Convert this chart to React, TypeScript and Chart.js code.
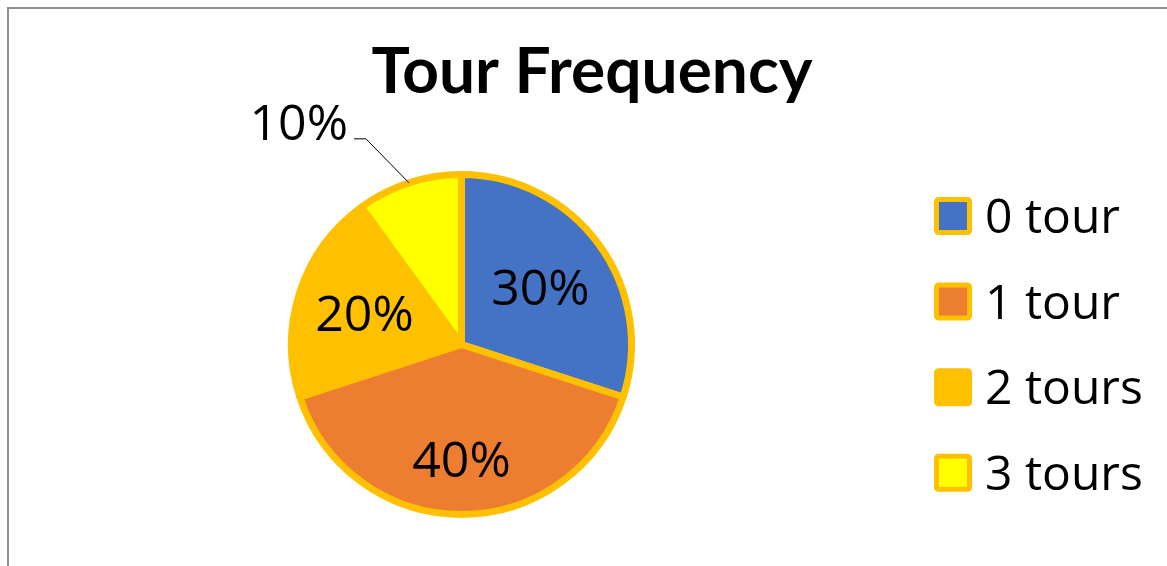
import { useEffect, useRef } from "react";
import { Chart, registerables } from "chart.js";

Chart.register(...registerables);

const chartTitle = "Tour Frequency";
const categories = ["0 tour", "1 tour", "2 tours", "3 tours"];
const shares = [30, 40, 20, 10];
const percentLabels = ["30%", "40%", "20%", "10%"];
const sliceColors = ["#4472C4", "#ED7D31", "#FFC000", "#FFFF00"];
const edgeColor = "#FFC000";

const TITLE_FONT = "Lato, 'Open Sans', sans-serif";
const TEXT_FONT = "'Open Sans', Lato, sans-serif";

export default function App() {
  const ref = useRef<HTMLCanvasElement>(null);

  useEffect(() => {
    const canvas = ref.current!;
    const decor = {
      id: "pieDecor",
      afterDraw(chart: any) {
        const ctx: CanvasRenderingContext2D = chart.ctx;
        const arcs = chart.getDatasetMeta(0).data;
        ctx.save();
        ctx.fillStyle = "#000";

        // title
        ctx.font = `bold 64px ${TITLE_FONT}`;
        ctx.textAlign = "center";
        ctx.textBaseline = "alphabetic";
        ctx.fillText(chartTitle, 592, 93);

        // slice labels
        ctx.font = `50px ${TEXT_FONT}`;
        const factors = [0.574, 0.674, 0.6];
        arcs.forEach((arc: any, i: number) => {
          const p = arc.getProps(["x", "y", "startAngle", "endAngle", "outerRadius"], true);
          const mid = (p.startAngle + p.endAngle) / 2;
          if (i < 3) {
            const r = p.outerRadius * factors[i];
            const lx = p.x + Math.cos(mid) * r;
            const ly = p.y + Math.sin(mid) * r;
            ctx.textAlign = "center";
            ctx.fillText(percentLabels[i], lx, ly + 18);
          } else {
            const ex = p.x + Math.cos(mid) * p.outerRadius;
            const ey = p.y + Math.sin(mid) * p.outerRadius;
            const bx = ex - 43;
            const by = ey - 44;
            ctx.strokeStyle = "#000";
            ctx.lineWidth = 1;
            ctx.beginPath();
            ctx.moveTo(ex, ey);
            ctx.lineTo(bx, by);
            ctx.lineTo(bx - 12, by);
            ctx.stroke();
            ctx.textAlign = "right";
            ctx.fillText(percentLabels[i], bx - 18, by + 1);
          }
        });

        // legend
        ctx.font = `48px ${TEXT_FONT}`;
        ctx.textAlign = "left";
        categories.forEach((name, i) => {
          const cy = 216 + i * 85.6;
          const x0 = 934;
          const size = 38;
          ctx.fillStyle = sliceColors[i];
          ctx.beginPath();
          ctx.roundRect(x0 + 2.5, cy - size / 2 + 2.5, size - 5, size - 5, 2);
          ctx.fill();
          ctx.strokeStyle = edgeColor;
          ctx.lineWidth = 5;
          ctx.stroke();
          ctx.fillStyle = "#000";
          ctx.fillText(name, 985, cy + 17);
        });
        ctx.restore();
      },
    };

    const chart = new Chart(canvas, {
      type: "pie",
      data: {
        labels: categories,
        datasets: [
          {
            data: shares,
            backgroundColor: sliceColors,
            borderColor: edgeColor,
            borderWidth: 7,
            borderJoinStyle: "round",
          },
        ],
      },
      options: {
        responsive: false,
        animation: false,
        radius: 170,
        layout: { padding: { left: 281.5, right: 525.5, top: 164.5, bottom: 41.5 } },
        plugins: {
          legend: { display: false },
          title: { display: false },
          tooltip: { enabled: false },
        },
      } as any,
      plugins: [decor],
    });
    return () => chart.destroy();
  }, []);

  return (
    <>
      <canvas
        ref={ref}
        width={1167}
        height={566}
        style={{ position: "fixed", left: 0, top: 0, width: 1167, height: 566, display: "block" }}
      />
      <div
        style={{
          position: "fixed",
          left: 7,
          top: 7,
          width: 2000,
          height: 2000,
          borderTop: "2px solid #8f8f8f",
          borderLeft: "2px solid #8f8f8f",
          pointerEvents: "none",
        }}
      />
    </>
  );
}
